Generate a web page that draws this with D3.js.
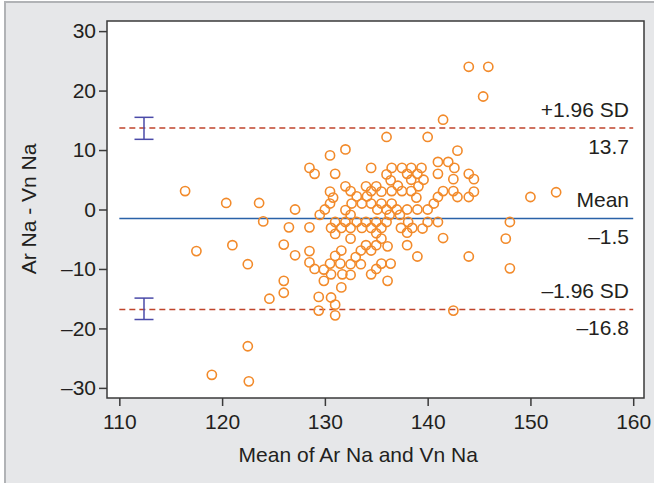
<!DOCTYPE html>
<html>
<head>
<meta charset="utf-8">
<script src="https://cdn.jsdelivr.net/npm/d3@7"></script>
<style>
  body { margin: 0; background: #fff; }
  text { font-family: "Liberation Sans", Arial, sans-serif; fill: #231f20; }
</style>
</head>
<body>
<svg id="chart" width="654" height="483"></svg>
<script>
// mean of the two sodium readings (x) and their difference (y)
const meanNa = [
    144.0, 145.9, 145.4, 141.5, 136.0, 140.0, 142.9, 132.0, 130.5,
    141.0, 142.0, 142.6, 128.5, 134.5, 136.5, 137.5, 138.4, 139.4,
    129.0, 131.0, 136.0, 138.0, 139.0, 141.0, 144.0,
    136.4, 138.4, 139.6, 142.5, 144.5,
    132.0, 134.0, 135.0, 137.1, 139.1,
    116.4, 130.5, 132.5, 134.5, 135.5, 136.5, 137.5, 138.4, 141.5, 142.5, 144.5, 152.5,
    130.8, 133.1, 134.1, 138.9, 141.0, 142.9, 144.0, 150.0,
    120.4, 123.6, 130.5, 132.6, 133.6, 134.5, 135.5, 136.5, 140.6,
    127.1, 130.0, 132.0, 135.1, 136.0, 137.0, 138.0, 139.0, 140.0,
    129.5, 132.5, 136.3, 137.3,
    124.0, 131.0, 132.0, 133.1, 134.0, 135.0, 136.0, 138.1, 140.0, 141.0, 148.0,
    126.5, 128.5, 130.6, 131.6, 132.5, 133.6, 134.5, 135.5, 137.4, 138.5, 139.5,
    131.0, 135.0, 138.0,
    132.5, 135.5, 141.5, 147.6,
    121.0, 126.0, 134.0, 135.0, 136.1, 138.0,
    117.5, 128.5, 131.6, 133.5, 134.5,
    127.1, 131.0, 133.0, 139.0, 144.0,
    122.5, 128.5, 130.5, 131.5, 132.5, 133.5, 135.5, 136.4,
    129.0, 129.9, 135.0, 148.0,
    130.6, 131.7, 132.5, 134.5,
    126.0, 129.9, 136.1,
    131.6, 126.0, 124.6, 129.4, 130.6, 131.0, 129.4, 131.0, 142.5,
    122.5, 119.0, 122.6
];
const diffNa = [
    24.0, 24.0, 19.0, 15.1, 12.2, 12.2, 9.9, 10.1, 9.1,
    8.0, 8.0, 7.0, 7.0, 7.0, 7.0, 7.0, 7.0, 7.0,
    6.0, 6.0, 5.9, 6.0, 6.0, 6.0, 6.0,
    4.9, 5.0, 5.0, 5.1, 5.1,
    3.9, 3.9, 3.9, 4.0, 3.9,
    3.1, 3.0, 3.1, 3.1, 3.0, 3.1, 3.1, 3.1, 3.1, 3.1, 3.0, 2.9,
    2.0, 2.2, 2.2, 2.0, 2.1, 2.1, 2.1, 2.1,
    1.1, 1.1, 1.0, 1.0, 1.0, 1.0, 1.0, 1.0, 1.0,
    0.0, 0.0, -0.1, 0.0, 0.0, 0.0, 0.0, 0.0, 0.0,
    -0.9, -0.9, -0.9, -0.9,
    -2.0, -2.1, -2.1, -2.1, -2.1, -2.1, -2.1, -2.1, -2.1, -2.1, -2.1,
    -3.0, -3.0, -3.1, -3.1, -3.1, -3.1, -3.1, -3.1, -3.1, -3.1, -3.2,
    -4.1, -4.0, -3.9,
    -4.9, -4.9, -4.8, -4.9,
    -6.0, -5.9, -6.0, -6.0, -6.2, -6.0,
    -7.0, -7.0, -6.9, -6.9, -6.9,
    -7.7, -7.8, -8.0, -7.9, -7.9,
    -9.2, -8.9, -9.1, -9.1, -9.2, -9.2, -9.1, -9.1,
    -10.0, -10.1, -10.0, -9.9,
    -10.9, -10.9, -11.0, -10.9,
    -12.0, -12.0, -12.0,
    -13.1, -14.0, -15.0, -14.7, -14.8, -16.0, -17.0, -17.8, -17.0,
    -23.0, -27.8, -28.9
];

// bias and limits of agreement
const limitNames = ['+1.96 SD', 'Mean', '\u20131.96 SD'];
const limitValues = [13.7, -1.5, -16.8];
const limitCI = [[11.8, 15.5], null, [-18.5, -14.9]];
const ciAt = 112.4;

const xTicks = [110, 120, 130, 140, 150, 160];
const yTicks = [-30, -20, -10, 0, 10, 20, 30];

const svg = d3.select('#chart');
const width = +svg.attr('width');
const height = +svg.attr('height');

const plot = { left: 107, top: 21, right: 644, bottom: 398 };

const x = d3.scaleLinear().domain([108.8, 161.05]).range([plot.left, plot.right]);
const y = d3.scaleLinear().domain([-31.7, 31.7]).range([plot.bottom, plot.top]);

const fmt = d => (d < 0 ? '\u2013' + Math.abs(d) : '' + d);

// grey panel behind everything
svg.append('rect')
    .attr('x', 5).attr('y', 2)
    .attr('width', width).attr('height', height)
    .attr('fill', '#e6e7e9')
    .attr('stroke', '#b1b3b6')
    .attr('stroke-width', 2);

svg.append('rect')
    .attr('x', plot.left).attr('y', plot.top)
    .attr('width', plot.right - plot.left)
    .attr('height', plot.bottom - plot.top)
    .attr('fill', '#fff');

// axes
const yAxis = svg.append('g')
    .attr('transform', `translate(${plot.left},0)`)
    .call(d3.axisLeft(y).tickValues(yTicks).tickFormat(fmt).tickSize(8).tickSizeOuter(0).tickPadding(3));
const xAxis = svg.append('g')
    .attr('transform', `translate(0,${plot.bottom})`)
    .call(d3.axisBottom(x).tickValues(xTicks).tickFormat(fmt).tickSize(8).tickSizeOuter(0).tickPadding(8));

[xAxis, yAxis].forEach(a => {
    a.select('.domain').remove();
    a.selectAll('line').attr('stroke', '#3a3a3a').attr('stroke-width', 1.5);
    a.selectAll('text')
        .attr('font-size', 21)
        .attr('font-family', '"Liberation Sans", Arial, sans-serif')
        .attr('fill', '#231f20');
});

// reference lines
const x0 = x(110), x1 = x(160);
limitValues.forEach((v, i) => {
    const isMean = i === 1;
    svg.append('line')
        .attr('x1', x0).attr('x2', x1)
        .attr('y1', y(v)).attr('y2', y(v))
        .attr('stroke', isMean ? '#2a62a8' : '#c0442c')
        .attr('stroke-width', 1.5)
        .attr('stroke-dasharray', isMean ? null : '6,4');
});

// confidence intervals for the limits
limitCI.forEach(ci => {
    if (!ci) return;
    const g = svg.append('g').attr('stroke', '#4a4aa8').attr('stroke-width', 1.5);
    const cx = x(ciAt);
    g.append('line').attr('x1', cx).attr('x2', cx).attr('y1', y(ci[0])).attr('y2', y(ci[1]));
    ci.forEach(c => {
        g.append('line').attr('x1', cx - 9.5).attr('x2', cx + 9.5).attr('y1', y(c)).attr('y2', y(c));
    });
});

// points
svg.append('g')
    .selectAll('circle')
    .data(meanNa.map((m, i) => [m, diffNa[i]]))
    .enter()
    .append('circle')
    .attr('cx', d => x(d[0]))
    .attr('cy', d => y(d[1]))
    .attr('r', 4.6)
    .attr('fill', 'none')
    .attr('stroke', '#f28a2a')
    .attr('stroke-width', 1.6);

// labels for the lines
limitValues.forEach((v, i) => {
    svg.append('text')
        .attr('x', 629).attr('y', y(v) - 11)
        .attr('text-anchor', 'end')
        .attr('font-size', 21)
        .text(limitNames[i]);
    svg.append('text')
        .attr('x', 629).attr('y', y(v) + 25.5)
        .attr('text-anchor', 'end')
        .attr('font-size', 21)
        .text(fmt(v));
});

// frame
svg.append('rect')
    .attr('x', plot.left).attr('y', plot.top)
    .attr('width', plot.right - plot.left)
    .attr('height', plot.bottom - plot.top)
    .attr('fill', 'none')
    .attr('stroke', '#3a3a3a')
    .attr('stroke-width', 1.5);

// axis titles
svg.append('text')
    .attr('x', (x0 + x1) / 2 - 18).attr('y', 462)
    .attr('text-anchor', 'middle')
    .attr('font-size', 21)
    .text('Mean of Ar Na and Vn Na');

svg.append('text')
    .attr('transform', 'translate(36,209) rotate(-90)')
    .attr('text-anchor', 'middle')
    .attr('font-size', 21)
    .text('Ar Na - Vn Na');
</script>
</body>
</html>
